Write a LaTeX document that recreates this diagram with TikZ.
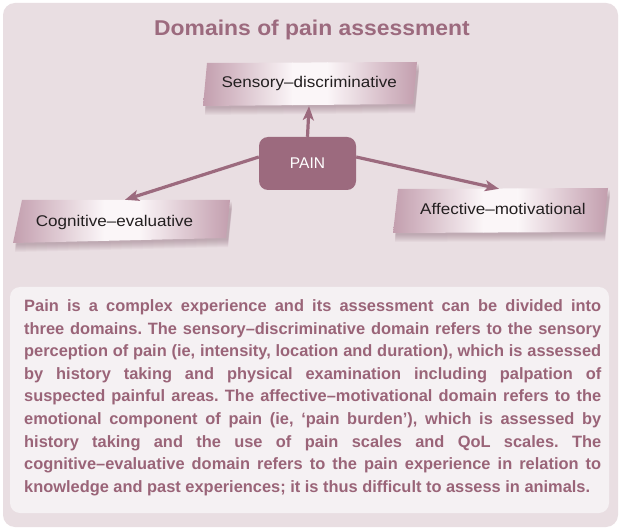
\documentclass[tikz,border=0pt]{standalone}
\usepackage{fontspec}
\setmainfont{Liberation Sans}
\newfontfamily\titlefont[FakeStretch=1.07]{Liberation Sans}
\newfontfamily\labelfont[FakeStretch=1.1]{Liberation Sans}
\usetikzlibrary{arrows.meta,calc}
\definecolor{mauve}{HTML}{9C6A7E}
\definecolor{textmauve}{HTML}{9A6478}
\definecolor{outerbg}{HTML}{E9DEE2}
\definecolor{innerbg}{HTML}{F5F1F3}
\definecolor{boxedge}{HTML}{C29DAD}
\definecolor{boxmid}{HTML}{FBF6F8}
\definecolor{shadowcol}{HTML}{7E5868}
\definecolor{labeltext}{HTML}{231F20}
% slanted box: corners TL, TR, BR, BL
\newcommand\slabbox[8]{%
  \foreach \sbk in {1,...,8}{%
    \fill[shadowcol, opacity=0.055]
      ([shift={(2,-1-\sbk)}]#1,#2) -- ([shift={(2,-1-\sbk)}]#3,#4) -- ([shift={(2,-1-\sbk)}]#5,#6) -- ([shift={(2,-1-\sbk)}]#7,#8) -- cycle;}
  \begin{scope}
    \clip (#1,#2) -- (#3,#4) -- (#5,#6) -- (#7,#8) -- cycle;
    \pgfmathsetmacro\sbxa{min(#1,#7)}%
    \pgfmathsetmacro\sbxb{max(#3,#5)}%
    \pgfmathsetmacro\sbw{\sbxb-\sbxa}%
    \shade[left color=boxedge, right color=boxmid] (\sbxa-1,#2+3) rectangle (\sbxa+0.42*\sbw,#8-3);
    \fill[boxmid] (\sbxa+0.42*\sbw-0.5,#2+3) rectangle (\sbxa+0.58*\sbw+0.5,#8-3);
    \shade[left color=boxmid, right color=boxedge] (\sbxa+0.58*\sbw,#2+3) rectangle (\sbxb+1,#8-3);
  \end{scope}}
\begin{document}
\begin{tikzpicture}[x=1pt,y=1pt,
  boxlabel/.style={font=\labelfont\fontsize{15.5}{18}\selectfont, text=labeltext, inner sep=0pt, anchor=base},
  boxarea/.style={draw=none, inner sep=0pt, rectangle},
  conn/.style={draw=mauve, line width=3.2pt, -{Stealth[length=14pt,width=11pt,inset=3.5pt]}},
]
\useasboundingbox (0,0) rectangle (621,-529);
\fill[white] (0,0) rectangle (621,-529);
\fill[outerbg, rounded corners=12pt] (3,-3) rectangle (618,-527);

% title
\node[anchor=base, inner sep=0pt, text=mauve, font=\titlefont\bfseries\fontsize{21.4}{25}\selectfont] (title) at (312,-36) {Domains of pain assessment};

% slanted label boxes
\slabbox{207}{-63}{417}{-62}{413}{-104}{203}{-106}
\slabbox{22}{-200}{230}{-200}{226}{-238}{13}{-243}
\slabbox{398}{-189}{608}{-188}{603}{-232}{393}{-233}

% invisible anchor areas for the boxes
\node[boxarea, minimum width=210pt, minimum height=43pt] (sens) at (309,-84.5) {};
\node[boxarea, minimum width=205pt, minimum height=41pt] (cog) at (125,-220.5) {};
\node[boxarea, minimum width=205pt, minimum height=43pt] (aff) at (499,-210.5) {};

\node[boxlabel] (senslabel) at (309.2,-87.3) {Sensory–discriminative};
\node[boxlabel] (coglabel) at (114.5,-226.7) {Cognitive–evaluative};
\node[boxlabel] (afflabel) at (503,-215) {Affective–motivational};

% PAIN node
\node[fill=mauve, rounded corners=9pt, minimum width=97pt, minimum height=53pt, inner sep=0pt,
  text=white, font=\fontsize{15.5}{18}\selectfont] (pain) at (307.5,-163.5) {PAIN};

% connectors
\draw[conn] (pain.north) -- (sens.south);
\draw[conn] ($(pain.west)+(0,6.5)$) -- (cog.north);
\draw[conn] ($(pain.east)+(0,6.5)$) -- (aff.north);

% text panel
\fill[innerbg, rounded corners=10pt] (10,-287) rectangle (609,-513);
\node[anchor=north west, inner sep=0pt, text width=577pt, align=justify, text=textmauve,
  font=\bfseries\fontsize{16.4}{22.6}\selectfont] (para) at (24,-299.4) {\parfillskip=0pt \frenchspacing \hyphenpenalty=10000 \tolerance=10000 \hbadness=10000 Pain is a complex experience and its assessment can be divided into\linebreak
three domains. The sensory–discriminative domain refers to the sensory\linebreak
perception of pain (ie, intensity, location and duration), which is assessed\linebreak
by history taking and physical examination including palpation of\linebreak
suspected painful areas. The affective–motivational domain refers to the\linebreak
emotional component of pain (ie, ‘pain burden’), which is assessed by\linebreak
history taking and the use of pain scales and QoL scales. The\linebreak
cognitive–evaluative domain refers to the pain experience in relation to\linebreak
knowledge and past experiences; it is thus difficult to assess in animals.};
\end{tikzpicture}
\end{document}
